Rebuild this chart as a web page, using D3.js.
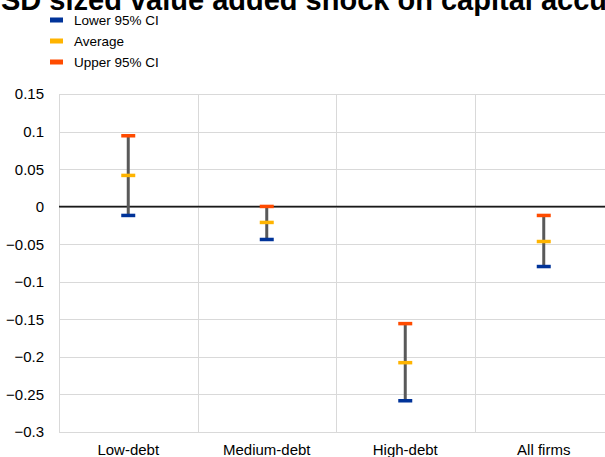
<!DOCTYPE html>
<html><head><meta charset="utf-8">
<script src="https://cdn.jsdelivr.net/npm/d3@7"></script>
<style>body{margin:0;background:#fff;overflow:hidden}svg{display:block}</style>
</head><body>
<svg id="c" width="605" height="457"></svg>
<script>
const titleText = "Impact of a 1 SD sized value added shock on capital accumulation";
const categories = ["Low-debt", "Medium-debt", "High-debt", "All firms"];
const lower95 = [-0.0117, -0.0437, -0.2584, -0.0797];
const average = [0.0416, -0.0210, -0.2077, -0.0464];
const upper95 = [0.0944, 0.0003, -0.1557, -0.0117];
const seriesNames = ["Lower 95% CI", "Average", "Upper 95% CI"];
const seriesColors = ["#003399", "#FFB400", "#FF4B00"];
const yTicks = [0.15, 0.1, 0.05, 0, -0.05, -0.1, -0.15, -0.2, -0.25, -0.3];

(function () {
const svg = d3.select("#c");
const font = "Liberation Sans, Arial, sans-serif";
const pL = 59, pR = 613, pT = 94, pB = 432;

const x = d3.scaleBand().domain(categories).range([pL, pR]).padding(0);
const y = d3.scaleLinear().domain([-0.3, 0.15]).range([pB, pT]);

// Title (clipped at top as in reference)
const t = svg.append("text").attr("y", 9.5).attr("font-family", font)
  .attr("font-weight", "bold").attr("font-size", 29).attr("fill", "#000").text(titleText);
const idx = titleText.indexOf("SD sized");
const pre = t.node().getSubStringLength(0, idx);
t.attr("x", 1 - pre);

// Gridlines
svg.append("g").selectAll("line").data(yTicks).join("line")
  .attr("x1", pL).attr("x2", pR)
  .attr("y1", d => Math.round(y(d)) + 0.5).attr("y2", d => Math.round(y(d)) + 0.5)
  .attr("stroke", "#d9d9d9").attr("stroke-width", 1);
const vEdges = categories.map(c => x(c)).concat([x(categories[categories.length-1]) + x.bandwidth()]);
svg.append("g").selectAll("line").data(vEdges).join("line")
  .attr("x1", d => Math.round(d) + 0.5).attr("x2", d => Math.round(d) + 0.5)
  .attr("y1", pT).attr("y2", pB)
  .attr("stroke", "#d9d9d9").attr("stroke-width", 1);

// Zero line
svg.append("line").attr("x1", pL).attr("x2", pR)
  .attr("y1", y(0)).attr("y2", y(0)).attr("stroke", "#1a1a1a").attr("stroke-width", 1.6);

// Y axis labels
svg.append("g").selectAll("text").data(yTicks).join("text")
  .attr("x", 44).attr("y", d => y(d)).attr("dy", "0.36em")
  .attr("text-anchor", "end").attr("font-family", font).attr("font-size", 15)
  .attr("fill", "#000").text(d => d3.format("")(d));

// X axis labels
svg.append("g").selectAll("text").data(categories).join("text")
  .attr("x", d => x(d) + x.bandwidth() / 2).attr("y", 455)
  .attr("text-anchor", "middle").attr("font-family", font).attr("font-size", 15)
  .attr("fill", "#000").text(d => d);

// Error bars
const bars = svg.append("g");
categories.forEach((c, i) => {
  const cx = x(c) + x.bandwidth() / 2;
  bars.append("line").attr("x1", cx).attr("x2", cx)
    .attr("y1", y(upper95[i])).attr("y2", y(lower95[i]))
    .attr("stroke", "#595959").attr("stroke-width", 3);
  [lower95, average, upper95].forEach((arr, s) => {
    bars.append("rect").attr("x", cx - 7).attr("y", y(arr[i]) - 1.75)
      .attr("width", 14).attr("height", 3.5).attr("fill", seriesColors[s]);
  });
});

// Legend
const lg = svg.append("g");
seriesNames.forEach((n, i) => {
  const ly = 20 + i * 21;
  lg.append("rect").attr("x", 50).attr("y", ly - 2.5).attr("width", 13).attr("height", 5)
    .attr("fill", seriesColors[i]);
  lg.append("text").attr("x", 74).attr("y", ly).attr("dy", "0.36em")
    .attr("font-family", font).attr("font-size", 13.5).attr("fill", "#000").text(n);
});
})();
</script>
</body></html>
